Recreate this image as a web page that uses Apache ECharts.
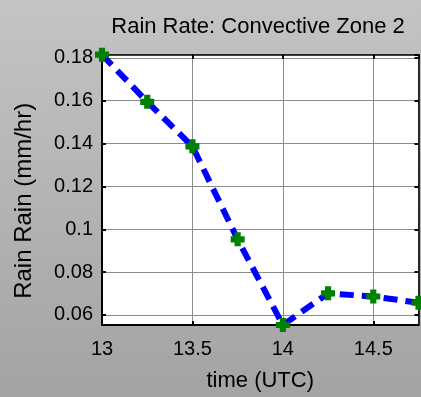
<!DOCTYPE html>
<html>
<head>
<meta charset="utf-8">
<script src="https://cdn.jsdelivr.net/npm/echarts@6/dist/echarts.min.js"></script>
<style>html,body{margin:0;padding:0;}#c{width:421px;height:397px;}</style>
</head>
<body>
<div id="c"></div>
<script>
var times = [13, 13.25, 13.5, 13.75, 14, 14.25, 14.5, 14.75];
var rainRate = [0.1815, 0.1595, 0.1387, 0.0953, 0.0553, 0.0701, 0.0686, 0.0657];
var titleText = 'Rain Rate: Convective Zone 2';
var xName = 'time (UTC)';
var yName = 'Rain Rain (mm/hr)';

var FONT = '"Liberation Sans", Arial, sans-serif';
var xMin = 13, xMax = 14.75;
var yMin = Math.min.apply(null, rainRate), yMax = Math.max.apply(null, rainRate);

var plusPath = 'path://M28,0 H72 V28 H100 V72 H72 V100 H28 V72 H0 V28 H28 Z';

var chart = echarts.init(document.getElementById('c'));
chart.setOption({
  animation: false,
  backgroundColor: {
    type: 'linear', x: 0, y: 0, x2: 0, y2: 1,
    colorStops: [{offset: 0, color: '#c4c4c4'}, {offset: 1, color: '#a3a3a3'}]
  },
  title: {
    text: titleText,
    left: 253, top: 11, textAlign: 'center',
    textStyle: {fontFamily: FONT, fontSize: 22, fontWeight: 'normal', color: '#000'}
  },
  grid: {
    left: 102, right: 2.5, top: 54.7, bottom: 72,
    show: true, backgroundColor: '#ffffff', borderColor: '#000', borderWidth: 0
  },
  xAxis: [{
    type: 'value', min: xMin, max: xMax, interval: 0.5,
    name: xName, nameLocation: 'middle', nameGap: 45,
    nameTextStyle: {fontFamily: FONT, fontSize: 22, color: '#000'},
    axisLine: {show: true, lineStyle: {color: '#000', width: 2}},
    axisTick: {show: true, inside: true, length: 4, lineStyle: {color: '#000', width: 2}},
    axisLabel: {fontFamily: FONT, fontSize: 20, color: '#000', margin: 14, showMaxLabel: false},
    splitLine: {show: true, lineStyle: {color: '#8c8c8c', width: 1}}
  }, {
    type: 'value', min: xMin, max: xMax, interval: 0.5, position: 'top',
    axisLine: {show: true, lineStyle: {color: '#000', width: 1.5}},
    axisTick: {show: true, inside: true, length: 4, lineStyle: {color: '#000', width: 2}},
    axisLabel: {show: false}, splitLine: {show: false}
  }],
  yAxis: [{
    type: 'value', min: yMin, max: yMax, minInterval: 0.02, maxInterval: 0.02, splitNumber: 6,
    name: yName, nameLocation: 'middle', nameGap: 66,
    nameTextStyle: {fontFamily: FONT, fontSize: 24, color: '#000', padding: [0, 22, 0, 0]},
    axisLine: {show: true, lineStyle: {color: '#000', width: 2}},
    axisTick: {show: true, inside: true, length: 4, lineStyle: {color: '#000', width: 2}},
    axisLabel: {fontFamily: FONT, fontSize: 20, color: '#000', margin: 9, showMinLabel: false, showMaxLabel: false},
    splitLine: {show: true, lineStyle: {color: '#8c8c8c', width: 1}}
  }, {
    type: 'value', min: yMin, max: yMax, minInterval: 0.02, maxInterval: 0.02, splitNumber: 6, position: 'right',
    axisLine: {show: true, lineStyle: {color: '#000', width: 1.5}},
    axisTick: {show: true, inside: true, length: 4, lineStyle: {color: '#000', width: 2}},
    axisLabel: {show: false}, splitLine: {show: false}
  }],
  series: [{
    type: 'line',
    data: times.map(function (t, i) { return [t, rainRate[i]]; }),
    lineStyle: {color: '#0000ff', width: 6, type: [14, 8]},
    symbol: plusPath, symbolSize: 14,
    itemStyle: {color: '#008000'},
    clip: false
  }]
});
</script>
</body>
</html>
